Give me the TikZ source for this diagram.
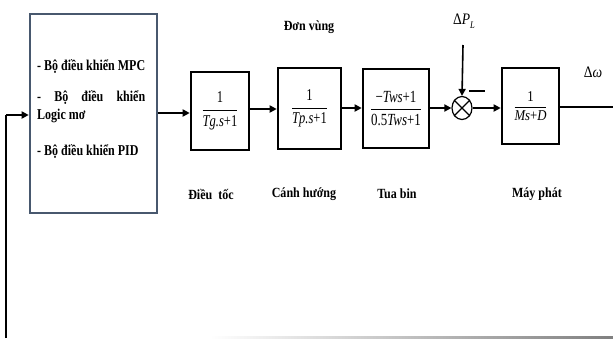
\documentclass[tikz,border=0pt]{standalone}
\usepackage{fontspec}
\setmainfont{Liberation Serif}
\newfontfamily\lblfont[FakeStretch=0.86]{Liberation Serif}
\newfontfamily\ctlfont[FakeStretch=0.8]{Liberation Serif}
\newfontfamily\frfont[FakeStretch=0.76]{Liberation Serif}
\newfontfamily\msfont[FakeStretch=0.85]{Liberation Serif}
\usetikzlibrary{arrows.meta,shapes.geometric}
\begin{document}
\begin{tikzpicture}[x=1pt,y=-1pt,
  blk/.style={draw=black,line width=2.6pt,inner sep=0pt},
  ctl/.style={draw=ctlblue,line width=2.6pt,inner sep=0pt},
  lbl/.style={font=\lblfont\bfseries\fontsize{14}{16}\selectfont,inner sep=0pt},
  ctltext/.style={font=\ctlfont\bfseries\fontsize{15}{17}\selectfont,inner sep=0pt,anchor=west},
  sig/.style={line width=2pt,-{Triangle[length=7pt,width=7pt]}},
  wire/.style={line width=2pt}]
\definecolor{ctlblue}{RGB}{72,88,110}
\useasboundingbox (0,0) rectangle (613,338);
% controller block
\node[ctl,minimum width=127pt,minimum height=199pt] (ctrl) at (93.5,113.5) {};
\node[ctltext] (c1) at (37,67) {- Bộ điều khiển MPC};
\node[ctltext] (c2) at (37,98) {\makebox[108pt][l]{-\hfill Bộ\hfill điều\hfill khiển}};
\node[ctltext] (c3) at (37,116) {Logic mơ};
\node[ctltext] (c4) at (37,152) {- Bộ điều khiển PID};
% blocks
\node[blk,minimum width=58pt,minimum height=78pt] (tg) at (220,111)
  {\frfont\fontsize{16.5}{18}\selectfont$\displaystyle\frac{\mbox{1}}{\mbox{\itshape Tg.s\upshape +1}}$};
\node[blk,minimum width=63pt,minimum height=81pt] (tp) at (309.5,108.5)
  {\frfont\fontsize{16.5}{18}\selectfont$\displaystyle\frac{\mbox{1}}{\mbox{\itshape Tp.s\upshape +1}}$};
\node[blk,minimum width=66pt,minimum height=79pt] (tw) at (396,108.5)
  {\frfont\fontsize{17}{19}\selectfont$\displaystyle\frac{\mbox{−\itshape Tws\upshape +1}}{\mbox{0.5\itshape Tws\upshape +1}}$};
\node[draw,ellipse,line width=1.2pt,minimum width=20pt,minimum height=23pt,inner sep=0pt] (sum) at (462,108) {};
\draw[line width=1.2pt] (sum.45) -- (sum.225) (sum.135) -- (sum.315);
\node[blk,minimum width=57pt,minimum height=76pt] (ms) at (530.5,106)
  {\msfont\fontsize{15}{17}\selectfont$\displaystyle\frac{\mbox{1}}{\mbox{\itshape Ms\upshape +\itshape D}}$};
% labels
\node[lbl] (l1) at (211,194) {Điều~ tốc};
\node[lbl] (l2) at (304,194) {Cánh hướng};
\node[lbl] (l3) at (397,194) {Tua bin};
\node[lbl] (l4) at (537,194) {Máy phát};
\node[lbl] (l5) at (309,27) {Đơn vùng};
\node[inner sep=0pt,font=\msfont\fontsize{16}{18}\selectfont] (dpl) at (464,21) {Δ\textit{P}\raisebox{-4pt}{\fontsize{10}{11}\selectfont\textit{L}}};
\node[inner sep=0pt,font=\msfont\fontsize{16}{18}\selectfont] (dw) at (593,72) {Δ\textit{ω}};
% minus sign
\coordinate (m1) at (469,91);
\coordinate (m2) at (485,91);
\draw[line width=2.4pt] (m1) -- (m2);
% connectors
\coordinate (pin) at (463,45);
\draw[sig,line width=1.6pt] (pin) -- (sum.north);
\draw[sig] (ctrl.east |- 0,113) -- (tg.west |- 0,113);
\draw[sig] (tg.east |- 0,109) -- (tp.west |- 0,109);
\draw[sig] (tp.east |- 0,108) -- (tw.west |- 0,108);
\draw[sig] (tw.east |- sum.west) -- (sum.west);
\draw[sig] (sum.east) -- (ms.west |- sum.east);
\coordinate (out) at (613,107);
\draw[wire] (ms.east |- out) -- (out);
% feedback
\coordinate (fb0) at (6,338);
\coordinate (fb1) at (6,115);
\draw[wire] (fb0) -- (fb1);
\draw[sig] (fb1) -- (ctrl.west |- fb1);
\shade[left color=white,right color=gray] (210,336) rectangle (613,338);
\end{tikzpicture}
\end{document}
